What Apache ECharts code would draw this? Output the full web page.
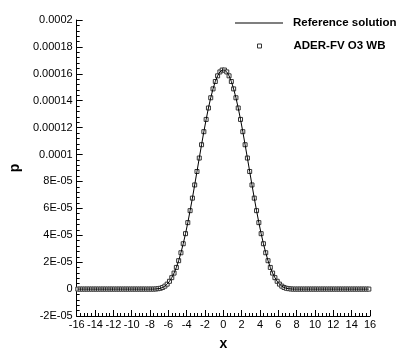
<!DOCTYPE html>
<html>
<head>
<meta charset="utf-8">
<script src="https://cdn.jsdelivr.net/npm/echarts@6/dist/echarts.min.js"></script>
<style>
  html, body { margin: 0; padding: 0; background: #fff; }
  #chart-container { width: 401px; height: 356px; }
</style>
</head>
<body>
<div id="chart-container"></div>
<script>
// cell centres, dx = 0.25 over [-16, 16]
var xs = [];
for (var i = 0; i < 128; i++) xs.push(-15.875 + 0.25 * i);

// p values (left half -16..0, mirrored for right half)
var pLeft = [
  0, 0, 0, 0, 0, 0, 0, 0,
  0, 0, 0, 0, 0, 0, 0, 0,
  0, 0, 0, 0, 0, 0, 0, 0,
  0, 0, 0, 0, 0, 0, 0, 0,
  0, 0, 0.01e-5, 0.03e-5, 0.06e-5, 0.12e-5, 0.22e-5, 0.37e-5,
  0.58e-5, 0.85e-5, 1.19e-5, 1.61e-5, 2.11e-5, 2.70e-5, 3.37e-5, 4.12e-5,
  4.94e-5, 5.83e-5, 6.76e-5, 7.74e-5, 8.74e-5, 9.74e-5, 10.73e-5, 11.70e-5,
  12.61e-5, 13.46e-5, 14.22e-5, 14.88e-5, 15.43e-5, 15.85e-5, 16.14e-5, 16.28e-5
];
var pRight = pLeft.slice().reverse();
var pValues = pLeft.concat(pRight);

var yTickLabels = ['-2E-05', '0', '2E-05', '4E-05', '6E-05', '8E-05',
  '0.0001', '0.00012', '0.00014', '0.00016', '0.00018', '0.0002'];

var seriesNames = ['Reference solution', 'ADER-FV O3 WB'];

var pts = xs.map(function (x, k) { return [x, pValues[k]]; });

var dom = document.getElementById('chart-container');
var myChart = echarts.init(dom);
var option;

var font = 'Liberation Sans, Arial, sans-serif';
var legendText = {
  fontFamily: font, fontWeight: 'bold', fontSize: 11.5, color: '#000'
};

option = {
  animation: false,
  backgroundColor: '#fff',
  grid: { left: 64, right: 31, top: 20, bottom: 38 },
  legend: [
    {
      left: 230,
      top: 12,
      itemWidth: 48,
      itemHeight: 12,
      icon: 'path://M0,0L48,0L48,1L0,1Z',
      itemStyle: { color: '#000', borderWidth: 0 },
      textStyle: Object.assign({ padding: [0, 0, 0, 5] }, legendText),
      data: [seriesNames[0]]
    },
    {
      left: 252,
      top: 35,
      itemWidth: 4,
      itemHeight: 4,
      icon: 'rect',
      itemStyle: { color: '#fff', borderColor: '#333', borderWidth: 1 },
      textStyle: Object.assign({ padding: [0, 0, 0, 27] }, legendText),
      data: [seriesNames[1]]
    }
  ],
  xAxis: {
    type: 'value',
    min: -16,
    max: 16,
    interval: 2,
    name: 'x',
    nameLocation: 'middle',
    nameGap: 21,
    nameTextStyle: { fontFamily: font, fontWeight: 'bold', fontSize: 14, color: '#000' },
    axisLine: { onZero: false, lineStyle: { color: '#000', width: 1 } },
    axisTick: { inside: true, length: 6, lineStyle: { color: '#000' } },
    minorTick: { show: true, splitNumber: 5, length: 3, lineStyle: { color: '#000' } },
    axisLabel: { fontFamily: font, fontSize: 11, color: '#000', margin: 3 },
    splitLine: { show: false }
  },
  yAxis: {
    type: 'value',
    min: -2e-5,
    max: 2e-4,
    interval: 2e-5,
    name: 'p',
    nameLocation: 'middle',
    nameGap: 42,
    nameTextStyle: { fontFamily: font, fontWeight: 'bold', fontSize: 14, color: '#000' },
    axisLine: { show: true, onZero: false, lineStyle: { color: '#000', width: 1 } },
    axisTick: { show: true, inside: true, length: 6, lineStyle: { color: '#000' } },
    minorTick: { show: true, splitNumber: 5, length: 3, lineStyle: { color: '#000' } },
    axisLabel: {
      fontFamily: font, fontSize: 11, color: '#000', margin: 4,
      formatter: function (v) {
        return yTickLabels[Math.round((v + 2e-5) / 2e-5)];
      }
    },
    splitLine: { show: false }
  },
  series: [
    {
      name: seriesNames[0],
      type: 'line',
      data: pts,
      symbol: 'none',
      lineStyle: { color: '#000', width: 1 },
      itemStyle: { color: '#000' },
      z: 3
    },
    {
      name: seriesNames[1],
      type: 'line',
      data: pts,
      symbol: 'rect',
      symbolSize: 4,
      showSymbol: true,
      showAllSymbol: true,
      lineStyle: { width: 0, opacity: 0 },
      itemStyle: { color: '#fff', borderColor: '#333', borderWidth: 1 },
      z: 2
    }
  ]
};

if (option && typeof option === 'object') {
  myChart.setOption(option);
}

window.addEventListener('resize', myChart.resize);
</script>
</body>
</html>
